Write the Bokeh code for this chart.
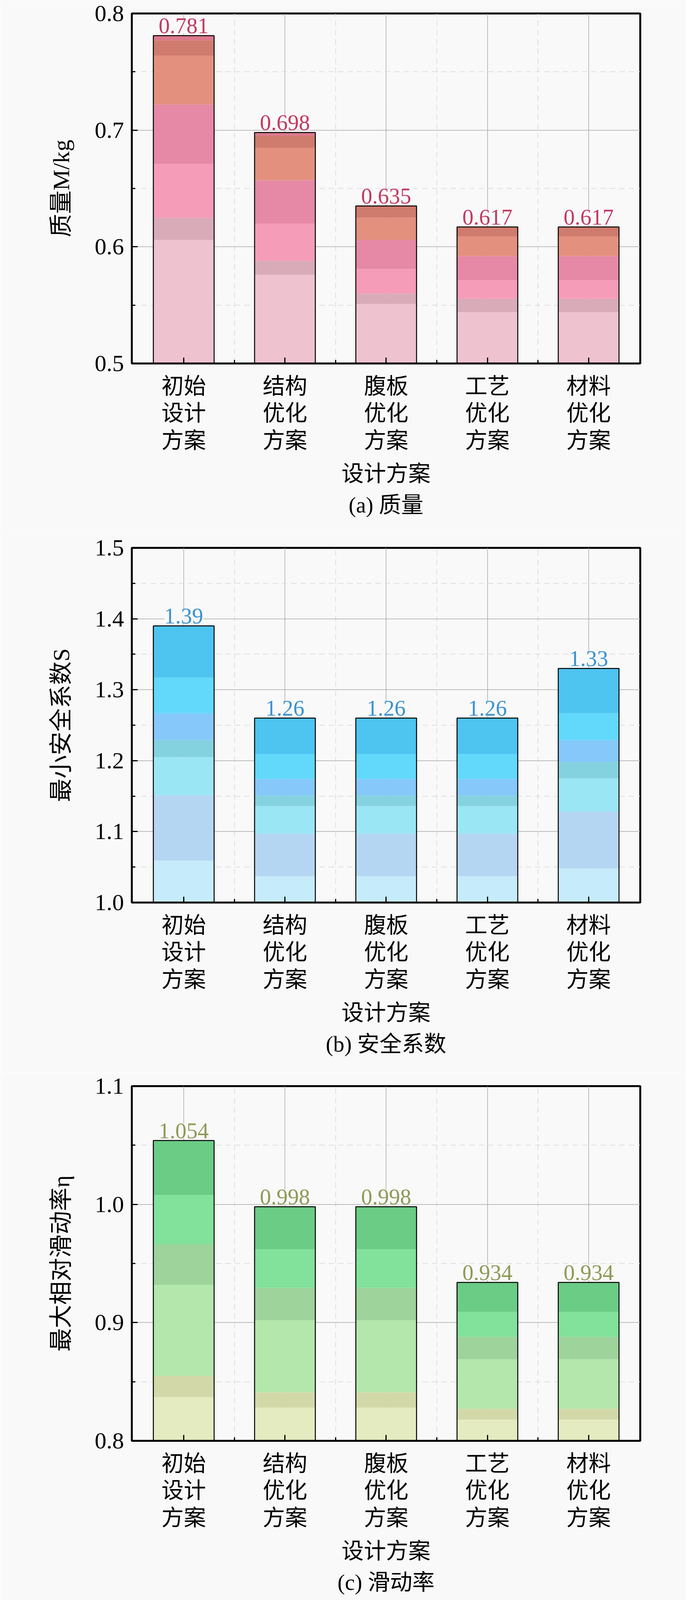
from bokeh.plotting import figure
from bokeh.models import (ColumnDataSource, FixedTicker, PrintfTickFormatter,
                          Range1d, LabelSet, Title)
from bokeh.layouts import column
from bokeh.embed import file_html
from bokeh.resources import INLINE

# ---------------- data ----------------
categories = ["初始\n设计\n方案", "结构\n优化\n方案", "腹板\n优化\n方案",
              "工艺\n优化\n方案", "材料\n优化\n方案"]

# (a) mass M/kg : cumulative tops of the stacked layers, bottom -> top
mass_total = [0.781, 0.698, 0.635, 0.617, 0.617]
mass_l1 = [0.606, 0.576, 0.551, 0.544, 0.544]
mass_l2 = [0.625, 0.588, 0.560, 0.5555, 0.5555]
mass_l3 = [0.671, 0.620, 0.581, 0.5715, 0.5715]
mass_l4 = [0.722, 0.657, 0.606, 0.592, 0.592]
mass_l5 = [0.764, 0.685, 0.625, 0.609, 0.609]
mass_l6 = [0.777, 0.695, 0.635, 0.617, 0.617]
mass_l7 = [0.781, 0.698, 0.635, 0.617, 0.617]

# (b) minimum safety factor S
safety_total = [1.39, 1.26, 1.26, 1.26, 1.33]
safety_l1 = [1.059, 1.037, 1.037, 1.037, 1.048]
safety_l2 = [1.151, 1.097, 1.097, 1.097, 1.128]
safety_l3 = [1.205, 1.136, 1.136, 1.136, 1.175]
safety_l4 = [1.229, 1.151, 1.151, 1.151, 1.1985]
safety_l5 = [1.267, 1.174, 1.174, 1.174, 1.229]
safety_l6 = [1.317, 1.2095, 1.2095, 1.2095, 1.267]
safety_l7 = [1.39, 1.26, 1.26, 1.26, 1.33]

# (c) max relative slip rate eta
slip_total = [1.054, 0.998, 0.998, 0.934, 0.934]
slip_l1 = [0.837, 0.828, 0.828, 0.818, 0.818]
slip_l2 = [0.855, 0.841, 0.841, 0.827, 0.827]
slip_l3 = [0.932, 0.902, 0.902, 0.869, 0.869]
slip_l4 = [0.966, 0.9295, 0.9295, 0.888, 0.888]
slip_l5 = [1.008, 0.962, 0.962, 0.909, 0.909]
slip_l6 = [1.054, 0.998, 0.998, 0.934, 0.934]

# ---------------- styles ----------------
BG = "#f9f9f9"
SERIF = "Liberation Serif"
CJK = "Noto Sans CJK SC"
MIXED = "Liberation Serif, Noto Sans CJK SC"
FS = "57px"

mass_colors = ["#efc2d0", "#d9aab8", "#f59cb9", "#e589a6", "#e3907f", "#cf7b6d", "#dc7a8c"]
safety_colors = ["#c6ecfb", "#b5d6f2", "#9be6f5", "#84d2e0", "#86c8fa", "#62d8fb", "#4ec4f1"]
slip_colors = ["#e5ebc1", "#d3d8a9", "#b3e7ab", "#9ed39b", "#82e19a", "#6bcc86"]

TOP = 34


def make_panel(layers, colors, totals, labels, label_color, y0, y1, majors, minors,
               ylabel, caption, height, frame_h):
    p = figure(width=1756, height=height, output_backend="svg", toolbar_location=None,
               x_range=Range1d(-0.513, 4.51), y_range=Range1d(y0, y1),
               min_border_left=337, min_border_right=117, min_border_top=TOP,
               min_border_bottom=height - TOP - frame_h,
               background_fill_color=BG, border_fill_color=BG)
    xs = list(range(len(categories)))
    bottom = [0.0] * len(xs)
    for tops, col in zip(layers, colors):
        src = ColumnDataSource(dict(x=xs, top=tops, bottom=bottom))
        p.vbar(x="x", top="top", bottom="bottom", width=0.6, source=src,
               fill_color=col, line_color=None)
        bottom = tops
    out = ColumnDataSource(dict(x=xs, top=totals))
    p.vbar(x="x", top="top", bottom=0, width=0.6, source=out,
           fill_alpha=0, line_color="black", line_width=2.5)

    lab = ColumnDataSource(dict(x=xs, y=totals, t=labels))
    p.add_layout(LabelSet(x="x", y="y", text="t", source=lab, text_align="center",
                          text_baseline="bottom", y_offset=6,
                          text_font=SERIF, text_font_size=FS,
                          text_color=label_color, background_fill_color=BG))

    # axes
    p.xaxis.ticker = FixedTicker(ticks=xs, minor_ticks=[0.5, 1.5, 2.5, 3.5])
    p.xaxis.major_label_overrides = {i: c for i, c in enumerate(categories)}
    p.yaxis.ticker = FixedTicker(ticks=majors, minor_ticks=minors)
    p.yaxis.formatter = PrintfTickFormatter(format="%.1f")
    for ax in (p.xaxis[0], p.yaxis[0]):
        ax.axis_line_width = 5
        ax.axis_line_color = "black"
        ax.major_tick_in = 15
        ax.major_tick_out = 0
        ax.minor_tick_in = 9
        ax.minor_tick_out = 0
        ax.major_tick_line_width = 3
        ax.minor_tick_line_width = 3
        ax.major_tick_line_color = "black"
        ax.minor_tick_line_color = "black"
        ax.axis_label_text_font_style = "normal"
        ax.axis_label_text_color = "black"
        ax.major_label_text_color = "black"
    p.yaxis.major_label_text_font = SERIF
    p.yaxis.major_label_text_font_size = "60px"
    p.yaxis.major_label_standoff = 20
    p.yaxis.axis_label = ylabel
    p.yaxis.axis_label_text_font = MIXED
    p.yaxis.axis_label_text_font_size = "60px"
    p.yaxis.axis_label_standoff = 50

    p.xaxis.major_label_text_font = CJK
    p.xaxis.major_label_text_font_size = FS
    p.xaxis.major_label_text_line_height = 0.85
    p.xaxis.major_label_standoff = 11
    p.xaxis.axis_label = "设计方案"
    p.xaxis.axis_label_text_font = CJK
    p.xaxis.axis_label_text_font_size = FS
    p.xaxis.axis_label_standoff = 0

    # grid
    for g in (p.xgrid[0], p.ygrid[0]):
        g.grid_line_color = "#a8a8a8"
        g.grid_line_width = 1.5
        g.minor_grid_line_color = "#d6d6d6"
        g.minor_grid_line_width = 1.5
        g.minor_grid_line_dash = "14 10"

    p.outline_line_color = "black"
    p.outline_line_width = 5
    p.outline_line_alpha = 1

    p.add_layout(Title(text=caption, align="center", text_font=MIXED,
                       text_font_size=FS, text_font_style="normal",
                       text_color="black", standoff=16), "below")
    return p


pa = make_panel([mass_l1, mass_l2, mass_l3, mass_l4, mass_l5, mass_l6, mass_l7],
                mass_colors, mass_total, [f"{v:.3f}" for v in mass_total], "#c23a62",
                0.5, 0.8, [0.5, 0.6, 0.7, 0.8], [0.55, 0.65, 0.75],
                "质量M/kg", "(a) 质量", 1368, 896)
pb = make_panel([safety_l1, safety_l2, safety_l3, safety_l4, safety_l5, safety_l6, safety_l7],
                safety_colors, safety_total, [f"{v:.2f}" for v in safety_total], "#3a92d0",
                1.0, 1.5, [1.0, 1.1, 1.2, 1.3, 1.4, 1.5], [1.05, 1.15, 1.25, 1.35, 1.45],
                "最小安全系数S", "(b) 安全系数", 1378, 908)
pc = make_panel([slip_l1, slip_l2, slip_l3, slip_l4, slip_l5, slip_l6],
                slip_colors, slip_total, [f"{v:.3f}" for v in slip_total], "#8e9a58",
                0.8, 1.1, [0.8, 0.9, 1.0, 1.1], [0.85, 0.95, 1.05],
                "最大相对滑动率η", "(c) 滑动率", 1356, 908)

layout = column(pa, pb, pc, spacing=0)
open("out.html", "w").write(file_html(layout, INLINE))
